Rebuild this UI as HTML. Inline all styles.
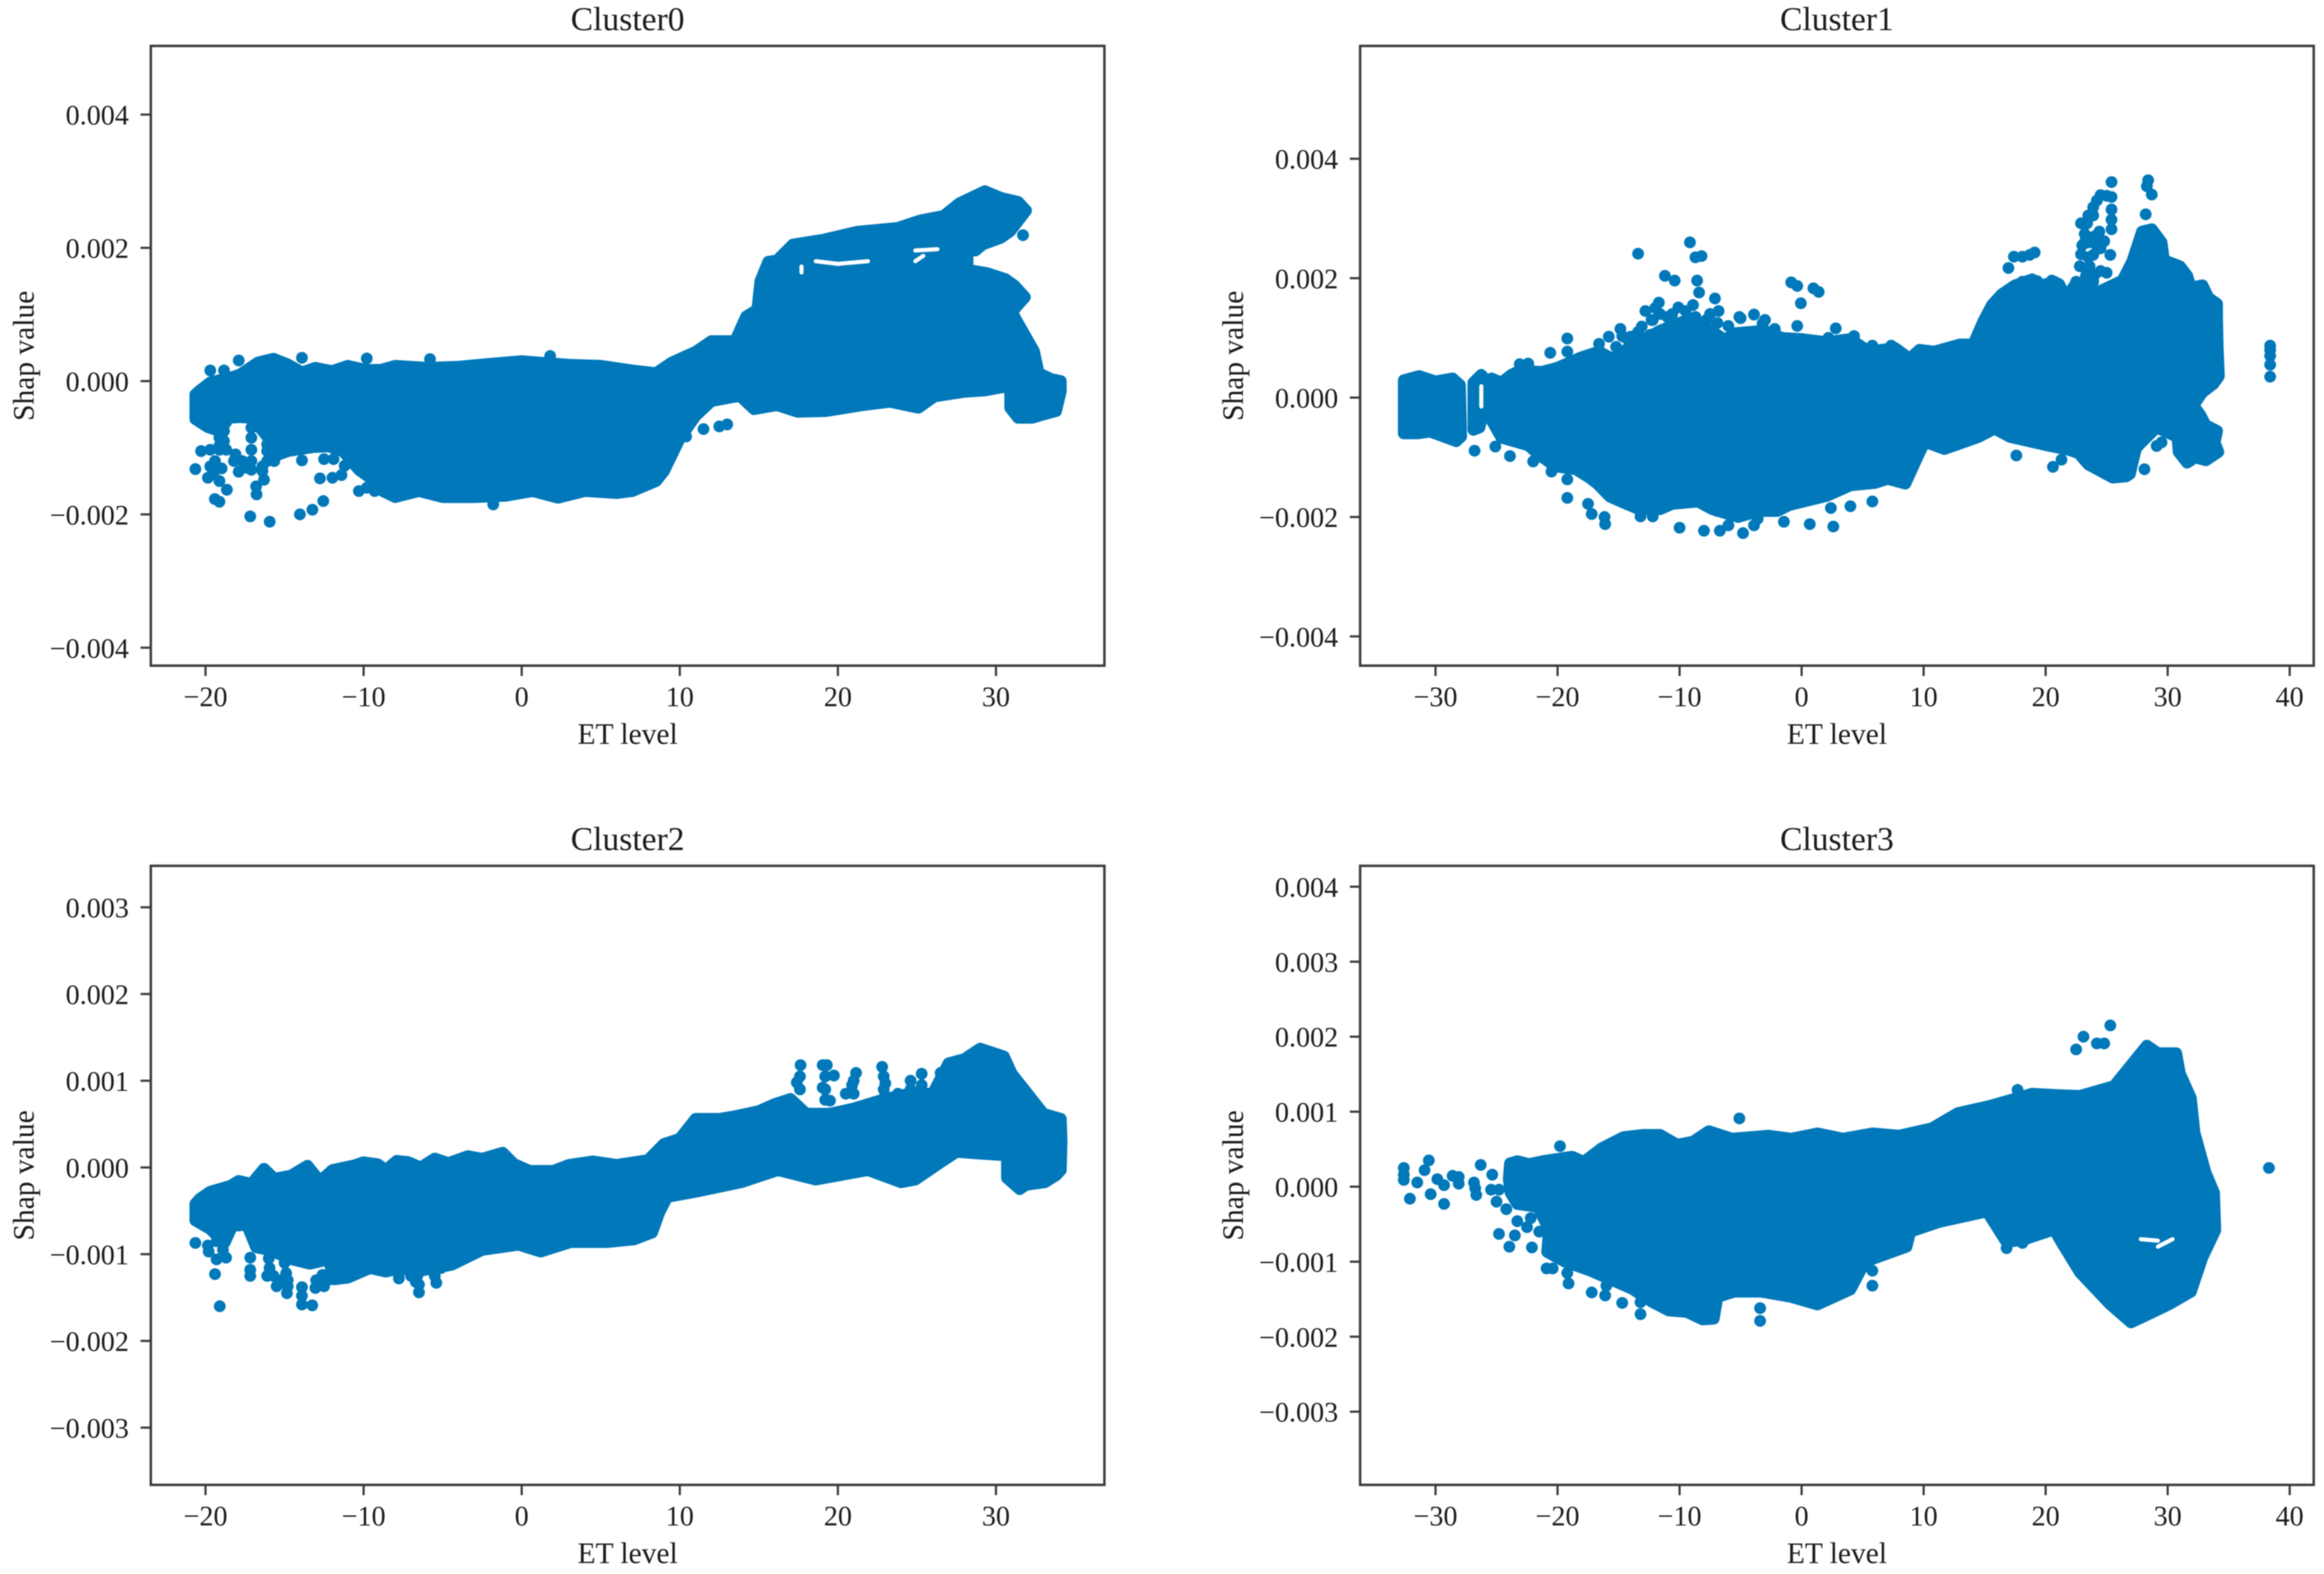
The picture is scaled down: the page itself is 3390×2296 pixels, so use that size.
<!DOCTYPE html>
<html lang="en">
<head>
<meta charset="utf-8">
<title>SHAP value versus ET level by cluster</title>
<style>
html,body{margin:0;padding:0;background:#fff;}
body{width:3390px;height:2296px;overflow:hidden;}
#chart{display:block;width:3390px;height:2296px;filter:blur(0.7px);}
text{font-family:"Liberation Serif",serif;fill:#1c1c1c;}
</style>
</head>
<body>
<svg id="chart" xmlns="http://www.w3.org/2000/svg" width="3390" height="2296" viewBox="0 0 3390 2296"></svg>
<script>
// All y values below are SHAP values in units of 0.001.
const narrowXTicks = [-20,-10,0,10,20,30];
const wideXTicks = [-30,-20,-10,0,10,20,30,40];
const cluster0YTicks = [4,2,0,-2,-4];
const cluster1YTicks = [4,2,0,-2,-4];
const cluster2YTicks = [3,2,1,0,-1,-2,-3];
const cluster3YTicks = [4,3,2,1,0,-1,-2,-3];

// Cluster 0: outline of the dense cloud
const c0UpperX = [-20.64,-20.35,-19.7,-18.3,-17.8,-16.67,-15.7,-14.8,-13.9,-13.05,-12,-11,-9.8,-8.9,-8,-6,-4,-2,0,1,3,5,7,8.5,9.5,11,12,13.5,14.2,14.9,15.1,15.6,16.15,17.16,19.04,21.2,23.8,25.2,26.7,27.7,29.3,30.3,31.4,31.9,30.9,30.3,29.15,28.7,28.2,28.2,29.45,30.6,31.18,31.83,31.04,31.2,32.4,32.7,33.5,34.1,34.1];
const c0UpperY = [-0.2,-0.14,-0.02,0.06,0.1,0.28,0.336,0.25,0.13,0.2,0.15,0.23,0.165,0.17,0.23,0.2,0.215,0.26,0.3,0.28,0.245,0.23,0.16,0.12,0.28,0.44,0.6,0.6,0.97,1.07,1.5,1.79,1.81,2.05,2.12,2.24,2.3,2.41,2.48,2.67,2.85,2.75,2.69,2.56,2.25,2.15,2.05,1.96,1.98,1.67,1.62,1.53,1.43,1.26,1.05,0.95,0.45,0.12,0.03,0,-0.15];
const c0LowerX = [-20.64,-19.85,-19.1,-18.5,-17.8,-17.2,-16.9,-16.1,-15.6,-14.8,-13.2,-12.2,-11.3,-10.3,-9.3,-8.8,-8,-6.5,-5,-3,-1,0.7,2.3,4,6,7,8.5,9,10,11,12,13.8,14.7,16.15,17.45,19.2,21.6,23.3,25.1,26.1,28,29.3,30.9,30.9,31.4,32.3,33,33.8];
const c0LowerY = [-0.57,-0.69,-0.75,-0.55,-0.54,-0.55,-0.6,-0.83,-1.12,-1.05,-0.99,-0.98,-1.05,-1.33,-1.5,-1.65,-1.74,-1.65,-1.74,-1.74,-1.72,-1.65,-1.75,-1.65,-1.68,-1.65,-1.5,-1.35,-0.86,-0.52,-0.3,-0.22,-0.42,-0.36,-0.46,-0.45,-0.36,-0.31,-0.4,-0.23,-0.16,-0.14,-0.07,-0.4,-0.55,-0.55,-0.5,-0.45];
// Cluster 0: separately visible dots
const c0PointX = [-19.7,-18.83,-17.9,-13.9,-9.8,1.8,-5.8,-19.12,-19.12,-18.83,-18.83,-20.28,-19.7,-19.12,-18.69,-18.1,-17.67,-17.39,-20.64,-19.85,-19.7,-19.4,-19.12,-18.98,-19.5,-18.2,-17.9,-17.1,-17.1,-17.1,-17.1,-17.1,-16.4,-16.1,-16.3,-16.4,-16.8,-16.77,-15.65,-16.1,-16.1,-13.9,-12.76,-11.97,-11.4,-12.5,-11.9,-11.2,-10.3,-9.8,-9.3,-19.41,-19.12,-18.65,-17.17,-15.94,-14.03,-13.24,-12.55,31.71,11.5,12.5,10.4,13,-1.8];
const c0PointY = [0.16,0.16,0.31,0.35,0.34,0.376,0.33,-0.85,-0.97,-0.75,-0.9,-1.05,-1.03,-1.03,-1.03,-1.1,-1.2,-1.3,-1.32,-1.45,-1.28,-1.2,-1.5,-1.31,-1.4,-1.2,-1.36,-0.7,-0.85,-1.03,-1.2,-1.33,-1.28,-1.2,-1.48,-1.35,-1.58,-1.7,-1.2,-0.95,-1.05,-1.19,-1.46,-1.45,-1.41,-1.17,-1.17,-1.27,-1.65,-1.6,-1.65,-1.77,-1.81,-1.63,-2.03,-2.11,-2,-1.93,-1.8,2.19,-0.72,-0.68,-0.83,-0.65,-1.85];
const c0GapStartX = [18.6,20,24.9,17.7,25.4];
const c0GapStartY = [1.8,1.76,1.96,1.63,1.88];
const c0GapEndX = [20,21.9,26.3,17.7,24.9];
const c0GapEndY = [1.76,1.8,1.98,1.72,1.8];

// Cluster 1: outline of the dense cloud
const c1UpperX = [-25.4,-24.6,-23.8,-23.1,-21.3,-20,-18.1,-16.6,-15.5,-14.4,-14,-11.6,-9.5,-8,-6.3,-5.4,-3,-1.6,0,2,4,5.5,7.66,8.86,9.66,10.87,12.97,14.07,14.88,15.6,16.4,17.5,18.9,19.5,20.5,21.1,21.7,22.5,23.2,23.8,26.3,27.1,27.9,28.7,29.5,29.7,31,31.6,31.9,32.85,33.35,34.05,34.05,34.1,34.2,33.75,32.85,32.1,32.7,33.1,34.05,33.85,34.15];
const c1UpperY = [0.32,0.25,0.38,0.45,0.43,0.5,0.67,0.77,0.65,0.8,0.86,1.12,1.29,1.2,0.97,1.08,1.12,1,0.98,0.93,0.98,0.77,0.83,0.65,0.8,0.77,0.89,0.89,1.27,1.55,1.73,1.88,1.98,1.7,1.96,1.9,1.67,1.92,1.9,1.72,1.96,2.28,2.78,2.82,2.6,2.3,2.2,2.04,1.84,1.88,1.67,1.57,1.35,0.85,0.36,0.23,0.09,-0.13,-0.3,-0.46,-0.56,-0.75,-0.91];
const c1LowerX = [-25.4,-24.6,-22.4,-21.5,-20.2,-18.5,-17.4,-16.7,-15.7,-14.6,-13.3,-11.6,-10.6,-8.5,-7.3,-5.2,-3.5,-2,-1,2,4,6,7.06,8.5,9.6,10.1,11.7,12.7,14.5,15.8,17.1,19.9,21.8,22.7,23.5,25.5,26.6,26.9,27.4,27.8,29.1,30.8,30.9,31.6,32.25,33.14];
const c1LowerY = [-0.38,-0.67,-0.8,-0.96,-1.15,-1.2,-1.34,-1.45,-1.66,-1.76,-1.87,-1.87,-1.78,-1.74,-1.87,-2,-1.9,-1.9,-1.8,-1.65,-1.47,-1.43,-1.36,-1.44,-0.95,-0.74,-0.86,-0.79,-0.66,-0.52,-0.66,-0.79,-0.87,-0.93,-1.12,-1.34,-1.32,-1.28,-0.85,-0.76,-0.5,-0.66,-0.91,-1.09,-1,-1.05];
// Cluster 1: low-density block at the far left
const c1BlockUpperX = [-32.6,-31.35,-30,-28.6,-28];
const c1BlockUpperY = [0.29,0.36,0.27,0.32,0.21];
const c1BlockLowerX = [-32.6,-31.5,-30.45,-28.3,-27.9];
const c1BlockLowerY = [-0.6,-0.6,-0.57,-0.73,-0.65];
const c1ColumnUpperX = [-26.9,-26.25,-25.9];
const c1ColumnUpperY = [0.25,0.38,0.3];
const c1ColumnLowerX = [-26.9,-26.4,-25.9];
const c1ColumnLowerY = [-0.54,-0.5,-0.1];
// Cluster 1: separately visible dots
const c1PointX = [-9.15,-13.4,-8.7,-8.2,-11.2,-10.4,-8.56,-8.4,-7.1,-8.9,-10.1,-11.7,-12.8,-13.1,-11.6,-6.8,-7.5,-5,-3.9,-3.2,-15.8,-14.85,-14.7,-19.2,-19.2,-20.6,-23.1,-22.4,-26.8,-25.1,-23.9,-22,-20.5,-19.2,-19.2,-17.5,-17.2,-16.15,-16.1,-13.2,-12.2,-10,-8,-6.7,-4.8,-3.9,-6,-3.6,-1.45,0.67,2.6,4,5.8,2.4,-6.9,25.4,28.4,28.3,28.7,28.2,24.5,25.4,23.9,23.9,25.4,25.4,25.4,22.9,23.4,23.2,23.2,24.4,24.8,24.1,22.9,23.9,25.3,22.8,23.3,24.5,25,23.9,22.5,23.2,17.4,18.1,18.7,19.1,16.95,17.4,18.1,19.1,16.5,17.6,20.6,21.3,28.1,29.1,29.5,38.4,38.4,38.4,38.4,38.4,-0.85,-0.36,0.97,1.4,-0.06,4.3,5.8,7.35,2.8,-0.36,-3.9,-5.1,0.67,2.2,-12.3,-12,-11,-10.6,-9.5,-8.7,-7.8,-6.9,-6,23.5,24.2,25,23.5,24,24.5,23.5,23,23.6,23.4,24,-12.2,-12.4,-13.4,-3.6,-3,-2.2,-16.6,-14.4,-15.2,-14,19.3,20,20.6,21.3,22.5];
const c1PointY = [2.6,2.41,2.35,2.37,2.04,1.96,1.96,1.76,1.66,1.55,1.51,1.59,1.45,1.19,1.4,1.45,1.4,1.33,1.39,1.24,1.02,1.15,1.03,0.99,0.77,0.75,0.56,0.57,-0.89,-0.82,-0.98,-1.07,-1.24,-1.37,-1.68,-1.78,-1.95,-2,-2.12,-1.99,-1.99,-2.18,-2.23,-2.23,-2.27,-2.14,-2.14,-2.03,-2.08,-2.12,-2.16,-1.82,-1.74,-1.85,-1.9,3.61,3.64,3.54,3.4,3.07,3.39,3.36,3.19,3.05,3.15,2.98,2.82,2.92,2.92,2.74,2.6,2.78,2.62,2.57,2.4,2.39,2.39,2.2,2.04,2.12,2.09,1.94,1.94,1.84,2.36,2.36,2.39,2.43,2.17,1.86,1.94,1.84,1.72,-0.97,-1.16,-1.04,-1.2,-0.81,-0.75,0.87,0.8,0.7,0.55,0.35,1.93,1.87,1.83,1.77,1.58,1.03,0.87,0.87,1.16,1.2,1.39,1.35,0.9,1,1.3,1.5,1.35,1.4,1.45,1.35,1.3,1.25,1.2,3.05,3.3,3.38,2.6,2.7,2.5,2.35,2.55,2.2,2.1,2.05,1.3,1.05,1.1,1.1,1.3,1.15,0.9,1,0.85,1.02,1.95,1.9,1.9,1.8,1.75];
const c1GapStartX = [-26.25];
const c1GapStartY = [0.19];
const c1GapEndX = [-26.25];
const c1GapEndY = [-0.15];

// Cluster 2: outline of the dense cloud
const c2UpperX = [-20.64,-20.35,-19.7,-18.4,-17.9,-17.1,-16.3,-15.65,-14.6,-13.55,-12.76,-11.97,-10.6,-10,-9.1,-8.6,-7.9,-7.2,-6.4,-5.5,-4.65,-3.4,-2.5,-1.2,-0.5,0.5,2,3,4.5,6,8,9,10,11,12.5,13.5,15,16,17,18,19.5,21,23,24.5,26,27,28,29,30.5,31,32,33,34.1,34.15,34.1];
const c2UpperY = [-0.42,-0.36,-0.28,-0.21,-0.155,-0.19,-0.016,-0.13,-0.095,0.02,-0.16,-0.03,0.024,0.06,0.036,-0.03,0.076,0.063,0,0.103,0.05,0.13,0.1,0.17,0.04,-0.04,-0.04,0.03,0.07,0.03,0.085,0.27,0.33,0.56,0.56,0.59,0.65,0.73,0.79,0.62,0.62,0.68,0.79,0.85,0.85,1.2,1.25,1.37,1.28,1.08,0.85,0.62,0.56,0.3,-0.03];
const c2LowerX = [-20.64,-19.7,-18.8,-18.3,-17.9,-17.4,-16.8,-16,-14.5,-13.4,-12.2,-11.9,-11,-9.6,-8.6,-7.6,-6.7,-5.5,-4.4,-2.5,-0.2,1.2,3.1,5.4,7.1,8.25,8.7,9.2,11,13.9,16.2,18.6,21.9,24,24.9,26.5,27.5,28.9,30.7,30.7,31.5,31.9,33.1,33.8];
const c2LowerY = [-0.61,-0.71,-0.87,-0.67,-0.67,-0.65,-0.92,-0.95,-1.06,-1.11,-1.06,-1.29,-1.27,-1.16,-1.2,-1.16,-1.2,-1.16,-1.12,-0.95,-0.89,-0.97,-0.86,-0.86,-0.83,-0.75,-0.52,-0.34,-0.28,-0.17,-0.03,-0.14,-0.03,-0.17,-0.14,0.06,0.18,0.16,0.14,-0.12,-0.25,-0.2,-0.17,-0.09];
// Cluster 2: separately visible dots
const c2PointX = [-20.64,-19.85,-19.4,-19.1,-19.3,-18.7,-17.17,-17.17,-17.17,-16.1,-15.5,-15.95,-14.8,-14.85,-14.9,-13.9,-13.9,-13.25,-13.05,-12.5,-12.6,-7.77,-6.5,-6.7,-5.4,-5.1,17.64,17.4,19.04,19.3,19.04,19.5,21.15,19.75,20.9,22.8,23,22.9,25.3,24.6,26.5,16.9,17.6,17.6,19.2,19.2,19.2,21,21,22.9,22.9,24.6,25.3,23.8,26.5,20.5,-19.3,-18.9,-19.8,-16,-15.7,-15.2,-15,-14.8,-13.9,-13,-12.3,-7.7,-6.6,-6.5,-7,-5.5];
const c2PointY = [-0.87,-0.9,-1.23,-1.6,-1.06,-1.04,-1.04,-1.18,-1.25,-1.25,-1.37,-1.16,-1.37,-1.45,-1.22,-1.48,-1.58,-1.59,-1.39,-1.37,-1.24,-1.28,-1.44,-1.32,-1.33,-1.16,1.18,0.98,1.18,1.18,0.92,0.77,1.09,1.06,0.95,1.16,0.97,0.8,1.08,1,1.09,0.74,1.05,0.9,1.05,0.9,0.78,1,0.85,1.05,0.9,0.9,0.95,0.85,0.95,0.85,-0.85,-0.95,-0.97,-1.05,-1.25,-1.3,-1.1,-1.3,-1.38,-1.3,-1.3,-1.2,-1.25,-1.35,-1.25,-1.25];

// Cluster 3: outline of the dense cloud
const c3UpperX = [-24,-23.9,-23.3,-22.35,-21.2,-18.8,-17.85,-16.4,-14.6,-13,-11.6,-10.2,-8.9,-7.6,-5.7,-2.7,-0.85,1.3,3.4,5.8,8,10.7,12.8,15.5,18.9,21,22.8,25.6,26.8,28.3,29.2,30.7,31,31.9,32.2,33.1,33.8,33.9];
const c3UpperY = [0.1,0.31,0.34,0.3,0.34,0.4,0.33,0.51,0.66,0.69,0.69,0.56,0.6,0.74,0.64,0.68,0.64,0.71,0.64,0.71,0.68,0.78,0.98,1.08,1.24,1.22,1.21,1.34,1.58,1.88,1.78,1.78,1.51,1.18,0.72,0.19,-0.08,-0.58];
const c3LowerX = [-24,-23.85,-23.3,-21.6,-20.7,-20.85,-19.4,-17.3,-15.6,-13.9,-12.2,-10.9,-9.4,-8.1,-7.2,-6.9,-5.5,-3.3,-0.85,1.3,4,5.2,8.6,8.9,11.3,15.2,16.8,18.3,20.7,21.3,22.8,25.3,27,28.3,30.1,31.9,32.85];
const c3LowerY = [0.1,-0.08,-0.23,-0.27,-0.57,-0.87,-1,-1.12,-1.24,-1.36,-1.54,-1.65,-1.67,-1.77,-1.76,-1.47,-1.4,-1.4,-1.47,-1.57,-1.37,-1,-0.8,-0.6,-0.47,-0.33,-0.74,-0.7,-0.57,-0.74,-1.14,-1.57,-1.81,-1.71,-1.57,-1.4,-0.94];
// Cluster 3: separately visible dots
const c3PointX = [-32.6,-32.6,-32.6,-32.1,-31.5,-30.9,-30.55,-30.4,-29.85,-29.3,-29.3,-28.6,-28.1,-28.1,-26.3,-26.85,-26.75,-26.66,-25.35,-25.45,-24.8,-25,-24.2,-23.3,-22.5,-22.2,-24.8,-23.5,-23.95,-22.1,-21.5,-20.9,-20.4,-19.1,-19.2,-17.2,-16.1,-16,-14.7,-13.2,-13.2,-19.8,-5.1,-3.4,-3.4,22.5,23.1,24.2,24.8,25.3,38.3,16.8,18.1,5.8,5.8,17.7];
const c3PointY = [0.25,0.16,0.09,-0.16,0.056,0.22,0.35,-0.1,0.1,-0.23,0.02,0.145,0.04,0.13,0.29,0.055,-0.02,-0.11,0.16,-0.04,-0.04,-0.2,-0.3,-0.46,-0.54,-0.42,-0.63,-0.65,-0.8,-0.81,-0.6,-1.09,-1.09,-1.29,-1.15,-1.41,-1.45,-1.32,-1.55,-1.7,-1.54,0.54,0.91,-1.62,-1.79,1.83,2,1.91,1.91,2.15,0.25,-0.82,-0.75,-1.12,-1.32,1.29];
const c3GapStartX = [27.8,29.2];
const c3GapStartY = [-0.7,-0.8];
const c3GapEndX = [29.2,30.4];
const c3GapEndY = [-0.72,-0.7];

const noGap = [];
const clusters = [
  {title:'Cluster0',slug:'cluster0',box:[220,67,1611,971],xLim:[-23.46,36.86],yLim:[-4.27,5.03],xTicks:narrowXTicks,yTicks:cluster0YTicks,
   clouds:[[c0UpperX,c0UpperY,c0LowerX,c0LowerY]],px:c0PointX,py:c0PointY,gaps:[c0GapStartX,c0GapStartY,c0GapEndX,c0GapEndY]},
  {title:'Cluster1',slug:'cluster1',box:[1984,67,3375,971],xLim:[-36.18,41.97],yLim:[-4.49,5.89],xTicks:wideXTicks,yTicks:cluster1YTicks,
   clouds:[[c1UpperX,c1UpperY,c1LowerX,c1LowerY],[c1BlockUpperX,c1BlockUpperY,c1BlockLowerX,c1BlockLowerY],[c1ColumnUpperX,c1ColumnUpperY,c1ColumnLowerX,c1ColumnLowerY]],px:c1PointX,py:c1PointY,gaps:[c1GapStartX,c1GapStartY,c1GapEndX,c1GapEndY]},
  {title:'Cluster2',slug:'cluster2',box:[220,1263,1611,2166],xLim:[-23.46,36.86],yLim:[-3.66,3.478],xTicks:narrowXTicks,yTicks:cluster2YTicks,
   clouds:[[c2UpperX,c2UpperY,c2LowerX,c2LowerY]],px:c2PointX,py:c2PointY,gaps:[noGap,noGap,noGap,noGap]},
  {title:'Cluster3',slug:'cluster3',box:[1984,1263,3375,2166],xLim:[-36.18,41.97],yLim:[-3.976,4.278],xTicks:wideXTicks,yTicks:cluster3YTicks,
   clouds:[[c3UpperX,c3UpperY,c3LowerX,c3LowerY]],px:c3PointX,py:c3PointY,gaps:[c3GapStartX,c3GapStartY,c3GapEndX,c3GapEndY]}
];

const NS = 'http://www.w3.org/2000/svg';
const svg = document.getElementById('chart');
const BLUE = '#0078b9';
const AXIS = '#3c3c3c';
const MARKER_R = 8.6;

function make(parent, tag, attrs, text){
  const el = document.createElementNS(NS, tag);
  for (const k in attrs) el.setAttribute(k, attrs[k]);
  if (text !== undefined) el.textContent = text;
  parent.appendChild(el);
  return el;
}
function linear(d0, d1, r0, r1){
  return v => r0 + (v - d0) * (r1 - r0) / (d1 - d0);
}
function fmtY(v){
  const s = (Math.abs(v) / 1000).toFixed(3);
  return v < 0 ? '\u2212' + s : s;
}
function fmtX(v){
  return v < 0 ? '\u2212' + Math.abs(v) : String(v);
}

clusters.forEach(c => {
  const [L, T, R, B] = c.box;
  const X = linear(c.xLim[0], c.xLim[1], L, R);
  const Y = linear(c.yLim[0], c.yLim[1], B, T);
  const g = make(svg, 'g', {});
  
  

  const marks = make(g, 'g', {});
  
  

  c.clouds.forEach(cl => {
    const [ux, uy, lx, ly] = cl;
    const pts = [];
    ux.forEach((v, i) => pts.push(X(v).toFixed(1) + ',' + Y(uy[i]).toFixed(1)));
    for (let i = lx.length - 1; i >= 0; i--) pts.push(X(lx[i]).toFixed(1) + ',' + Y(ly[i]).toFixed(1));
    const poly = make(marks, 'polygon', {points: pts.join(' '), fill: BLUE, stroke: BLUE, 'stroke-width': MARKER_R * 2, 'stroke-linejoin': 'round'});
    
    
  });

  const [gx1, gy1, gx2, gy2] = c.gaps;
  gx1.forEach((v, i) => {
    const gap = make(marks, 'line', {x1: X(v), y1: Y(gy1[i]), x2: X(gx2[i]), y2: Y(gy2[i]), stroke: '#fff', 'stroke-width': 6, 'stroke-linecap': 'round'});
    
    
  });

  c.px.forEach((v, i) => {
    const dot = make(marks, 'circle', {cx: X(v), cy: Y(c.py[i]), r: MARKER_R, fill: BLUE});
    
    
  });

  const frame = make(g, 'rect', {x: L, y: T, width: R - L, height: B - T, fill: 'none', stroke: AXIS, 'stroke-width': 3.6});
  
  

  c.xTicks.forEach(v => {
    const px = X(v);
    const tick = make(g, 'line', {x1: px, y1: B, x2: px, y2: B + 15, stroke: AXIS, 'stroke-width': 3.2});
    
    
    const lab = make(g, 'text', {x: px, y: B + 59, 'font-size': 41, 'text-anchor': 'middle'}, fmtX(v));
    
    
  });

  c.yTicks.forEach(v => {
    const py = Y(v);
    const tick = make(g, 'line', {x1: L - 15, y1: py, x2: L, y2: py, stroke: AXIS, 'stroke-width': 3.2});
    
    
    const lab = make(g, 'text', {x: L - 32, y: py + 14.5, 'font-size': 41, 'text-anchor': 'end'}, fmtY(v));
    
    
  });

  const cx = (L + R) / 2;
  const title = make(g, 'text', {x: cx, y: T - 23, 'font-size': 49, 'text-anchor': 'middle'}, c.title);
  
  

  const xl = make(g, 'text', {x: cx, y: B + 114, 'font-size': 43, 'text-anchor': 'middle'}, 'ET level');
  
  

  const ylx = L - 171;
  const yly = (T + B) / 2;
  const yl = make(g, 'text', {x: ylx, y: yly, 'font-size': 43, 'text-anchor': 'middle', transform: 'rotate(-90 ' + ylx + ' ' + yly + ')'}, 'Shap value');
  
  
});
</script>
</body>
</html>
